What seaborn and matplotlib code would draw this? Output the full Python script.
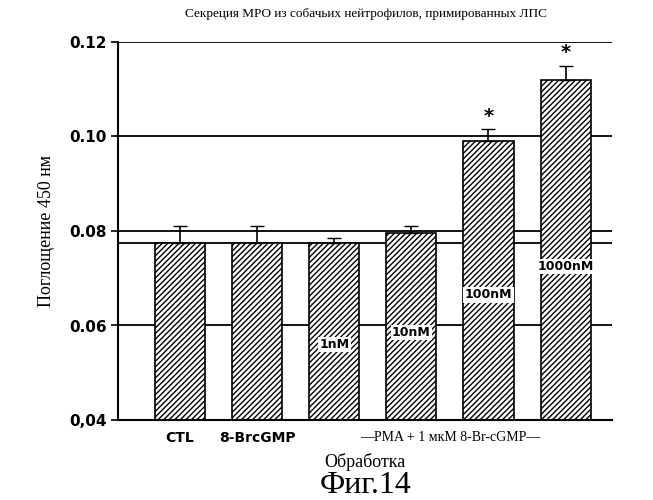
import matplotlib
matplotlib.use("Agg")
import matplotlib.pyplot as plt
import seaborn as sns
import pandas as pd

# --- Данные ---
groups = ['CTL', '8-BrcGMP', '1nM', '10nM', '100nM', '1000nM']
values = [0.0775, 0.0775, 0.0775, 0.0795, 0.0990, 0.1120]
errors = [0.0035, 0.0035, 0.0010, 0.0015, 0.0025, 0.0030]
stars = [False, False, False, False, True, True]
inner_labels = ['', '', '1nM', '10nM', '100nM', '1000nM']
inner_y = [0, 0, 0.056, 0.0585, 0.0665, 0.0725]
y_ticks = [0.04, 0.06, 0.08, 0.10, 0.12]
y_tick_labels = ['0,04', '0.06', '0.08', '0.10', '0.12']

df = pd.DataFrame({'group': groups, 'value': values})

fig = plt.figure(figsize=(6.53, 5.0), dpi=100)
ax = fig.add_axes([0.181, 0.16, 0.756, 0.756])

for y in [0.06, 0.0775, 0.08, 0.10, 0.12]:
    ax.axhline(y, color='black', lw=1.3, zorder=0)

sns.barplot(data=df, x='group', y='value', color='white', edgecolor='black',
            linewidth=1.2, width=0.65, ax=ax, zorder=2)
for p in ax.patches:
    p.set_hatch('//////')
ax.errorbar(range(len(groups)), values, yerr=[[0] * len(errors), errors],
            fmt='none', ecolor='black', capsize=5, lw=1.2, zorder=3)

for i, (lab, yy) in enumerate(zip(inner_labels, inner_y)):
    if lab:
        ax.text(i, yy, lab, ha='center', va='center', fontsize=9, fontweight='bold',
                bbox=dict(facecolor='white', edgecolor='none', pad=1), zorder=4)
for i, s in enumerate(stars):
    if s:
        ax.text(i, values[i] + errors[i] + 0.0008, '*', ha='center', va='bottom',
                fontsize=14, fontweight='bold')

ax.set_ylim(0.04, 0.12)
ax.set_xlim(-0.8, 5.6)
ax.set_yticks(y_ticks)
ax.set_yticklabels(y_tick_labels, fontsize=11, fontweight='bold')
ax.set_xticks([0, 1])
ax.set_xticklabels(['CTL', '8-BrcGMP'], fontsize=10, fontweight='bold')
ax.tick_params(axis='x', length=0, pad=8)
ax.tick_params(axis='y', length=5, width=1.2)
ax.text(3.5, -0.028, '—PMA + 1 мкМ 8-Br-cGMP—', transform=ax.get_xaxis_transform(),
        ha='center', va='top', fontsize=10, family='Liberation Serif')
for sp in ['top', 'right']:
    ax.spines[sp].set_visible(False)
for sp in ['left', 'bottom']:
    ax.spines[sp].set_linewidth(1.5)

ax.set_xlabel('Обработка', fontsize=13, family='Liberation Serif', labelpad=6)
ax.set_ylabel('Поглощение 450 нм', fontsize=13, family='Liberation Serif', labelpad=10)
fig.text(0.56, 0.965, 'Секреция МРО из собачьих нейтрофилов, примированных ЛПС',
         ha='center', fontsize=9.5, family='Liberation Serif')
fig.text(0.56, 0.0, 'Фиг.14', ha='center', va='bottom', fontsize=23, family='Liberation Serif')

fig.savefig('out.png', dpi=100)
